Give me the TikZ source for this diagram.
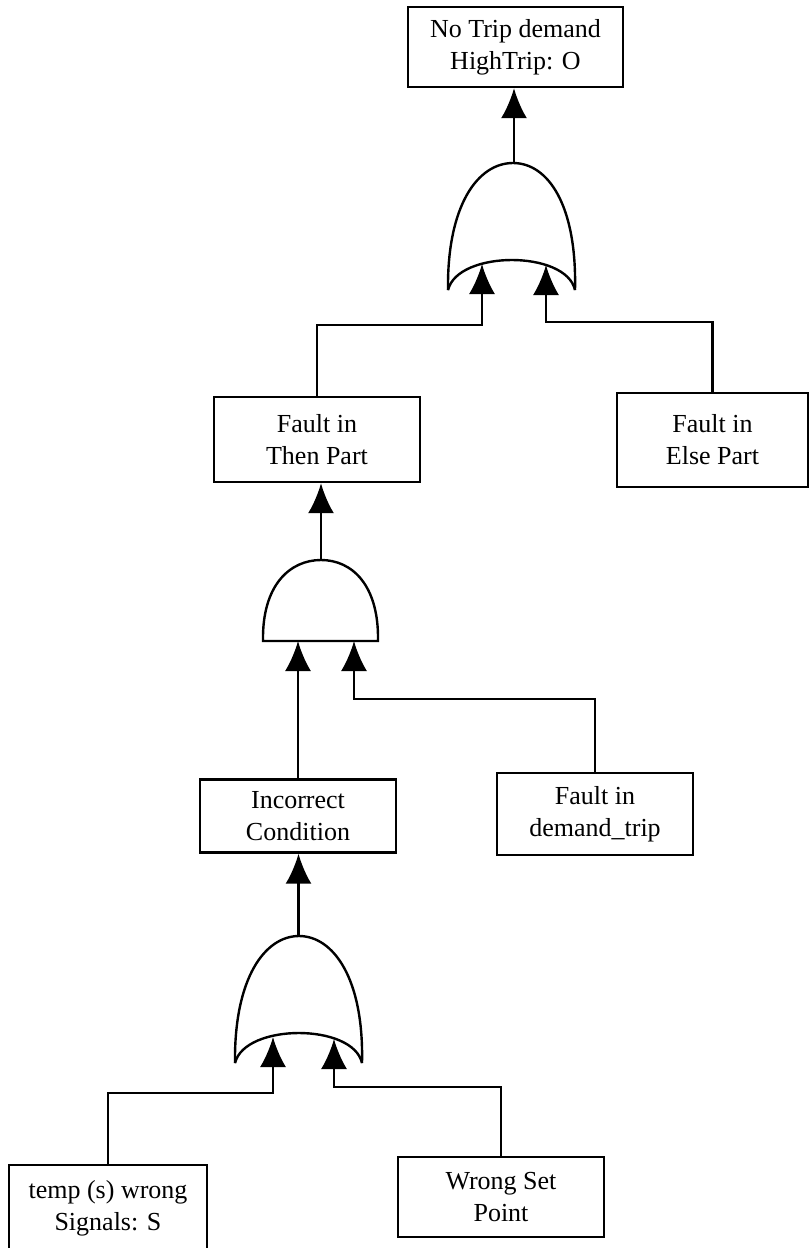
\documentclass[tikz,border=0pt]{standalone}
\usepackage{fontspec}
\setmainfont{Liberation Serif}
\usetikzlibrary{arrows.meta}

\begin{document}
\begin{tikzpicture}[
 x=1pt,
 y=-1pt,
 line width=2.4pt,
 >={Latex[length=30pt,width=26pt]},
 event/.style={
  inner sep=0pt,
  draw=black,
  rectangle,
  align=center,
  font={\fontsize{26}{32}\selectfont},
 },
 gate/.style={
  draw=black,
  line width=2.4pt,
 }
]
\useasboundingbox (0,0) rectangle (810,1248);

\node at (515.5,47) [event,minimum width=215pt,minimum height=80pt] (notrip) {No Trip demand\\HighTrip: O};

\draw[gate] (448,290) .. controls (447,205) and (478,163) .. (513,163) .. controls (548,163) and (577,205) .. (575,290);
\draw[gate] (448,290) .. controls (458,250) and (566,250) .. (575,290);
\coordinate (or1out) at (514,163);
\coordinate (or1a) at (482,264);
\coordinate (or1b) at (546,265);

\draw[->] (or1out) -- (or1out |- notrip.south);

\node at (317,439.5) [event,minimum width=206pt,minimum height=85pt] (thenpart) {Fault in\\Then Part};
\node at (712.5,440) [event,minimum width=191pt,minimum height=94pt] (elsepart) {Fault in\\Else Part};

\draw[->] (thenpart.north) -- ++(0,-71) -| (or1a);
\draw[->] (elsepart.north) -- ++(0,-70) -| (or1b);

\draw[gate] (263,641) .. controls (262,585) and (290,560) .. (321,560) .. controls (352,560) and (379,585) .. (378,641) -- cycle;
\coordinate (and1out) at (321,560);
\coordinate (and1a) at (298,641);
\coordinate (and1b) at (354,641);

\draw[->] (and1out) -- (and1out |- thenpart.south);

\node at (298,816) [event,minimum width=196pt,minimum height=73pt] (incorrect) {Incorrect\\Condition};
\node at (595,814) [event,minimum width=196pt,minimum height=82pt] (demandtrip) {Fault in\\demand\_trip};

\draw[->] (incorrect.north) -- (and1a);
\draw[->] (demandtrip.north) -- ++(0,-73) -| (and1b);

\draw[gate] (235,1063) .. controls (234,978) and (265,936) .. (299,936) .. controls (333,936) and (364,978) .. (362,1063);
\draw[gate] (235,1063) .. controls (245,1023) and (353,1023) .. (362,1063);
\coordinate (or2out) at (298.5,936);
\coordinate (or2a) at (273,1037);
\coordinate (or2b) at (334,1039);

\draw[->] (or2out) -- (or2out |- incorrect.south);

\node at (108,1208.5) [event,minimum width=198pt,minimum height=87pt] (tempsig) {temp (s) wrong\\Signals: S};
\node at (501,1197) [event,minimum width=206pt,minimum height=80pt] (setpoint) {Wrong Set\\Point};

\draw[->] (tempsig.north) -- ++(0,-71) -| (or2a);
\draw[->] (setpoint.north) -- ++(0,-69) -| (or2b);

\end{tikzpicture}
\end{document}
